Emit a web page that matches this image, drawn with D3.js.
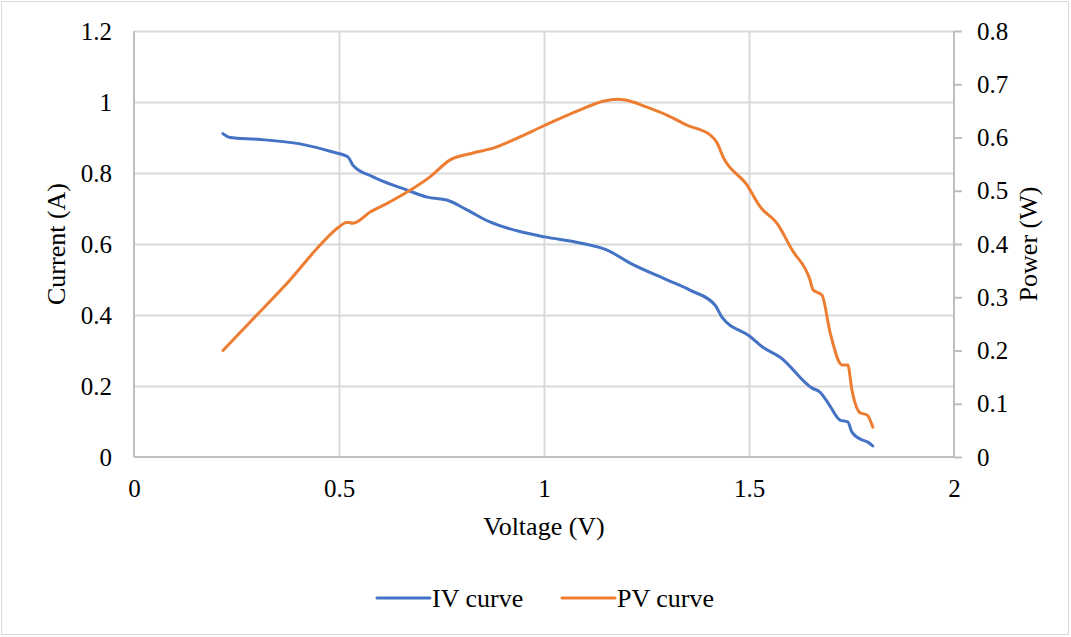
<!DOCTYPE html>
<html>
<head>
<meta charset="utf-8">
<script src="https://cdn.jsdelivr.net/npm/d3@7"></script>
<style>
    body { margin: 0; background: #fff; }
    svg text { font-family: 'Liberation Serif', 'Times New Roman', Tinos, 'DejaVu Serif', serif; fill: #000; }
</style>
</head>
<body>
<div id="chart"></div>
<script>
(function () {
    'use strict';

    // IV curve: voltage (V) vs current (A)
    var ivVoltage = [0.217, 0.234, 0.30, 0.405, 0.485, 0.522, 0.534, 0.583, 0.666, 0.715, 0.763, 0.812,
        0.868, 0.941, 1.002, 1.088, 1.154, 1.21, 1.30, 1.356, 1.417, 1.434, 1.502, 1.534, 1.576,
        1.654, 1.673, 1.693, 1.722, 1.741, 1.751, 1.776, 1.79, 1.802];
    var ivCurrent = [0.911, 0.90, 0.895, 0.882, 0.859, 0.845, 0.822, 0.789, 0.752, 0.732, 0.724, 0.696,
        0.662, 0.635, 0.62, 0.603, 0.583, 0.546, 0.499, 0.47, 0.428, 0.394, 0.340, 0.309, 0.281,
        0.194, 0.183, 0.152, 0.104, 0.099, 0.07, 0.048, 0.042, 0.031];

    // PV curve: voltage (V) vs power (W)
    var pvVoltage = [0.217, 0.30, 0.38, 0.454, 0.498, 0.52, 0.534, 0.576, 0.624, 0.722, 0.771,
        0.827, 0.876, 0.941, 1.002, 1.088, 1.144, 1.178, 1.202, 1.251, 1.30, 1.349, 1.405,
        1.422, 1.437, 1.495, 1.527, 1.568, 1.605, 1.649, 1.656, 1.678, 1.698, 1.727, 1.741, 1.751,
        1.771, 1.788, 1.802];
    var pvPower = [0.200, 0.267, 0.332, 0.398, 0.431, 0.441, 0.439, 0.460, 0.479, 0.526, 0.558,
        0.571, 0.580, 0.601, 0.623, 0.652, 0.668, 0.672, 0.670, 0.657, 0.642, 0.623, 0.605,
        0.590, 0.563, 0.511, 0.470, 0.439, 0.389, 0.332, 0.314, 0.304, 0.233, 0.173, 0.173, 0.126,
        0.083, 0.079, 0.056];

    var xTicks = [0, 0.5, 1, 1.5, 2];
    var leftTicks = [0, 0.2, 0.4, 0.6, 0.8, 1, 1.2];
    var rightTicks = [0, 0.1, 0.2, 0.3, 0.4, 0.5, 0.6, 0.7, 0.8];

    var width = 1071,
        height = 637,
        plot = { left: 134, right: 954, top: 31, bottom: 457 },
        serif = "'Liberation Serif', 'Times New Roman', Tinos, 'DejaVu Serif', serif",
        blue = '#4472C4',
        orange = '#ED7D31',
        grid = '#d9d9d9',
        axisColor = '#bfbfbf';

    var svg = d3.select('#chart')
        .append('svg')
        .attr('width', width)
        .attr('height', height)
        .attr('font-family', serif);

    svg.append('rect')
        .attr('x', 1.5).attr('y', 1.5)
        .attr('width', width - 4).attr('height', height - 4)
        .attr('fill', '#fff')
        .attr('stroke', grid);

    var x = d3.scaleLinear().domain([0, 2]).range([plot.left, plot.right]);
    var yLeft = d3.scaleLinear().domain([0, 1.2]).range([plot.bottom, plot.top]);
    var yRight = d3.scaleLinear().domain([0, 0.8]).range([plot.bottom, plot.top]);

    // gridlines
    svg.append('g')
        .selectAll('line.h')
        .data(leftTicks.slice(1))
        .enter().append('line')
        .attr('x1', plot.left).attr('x2', plot.right)
        .attr('y1', function (d) { return Math.round(yLeft(d)) + 0.5; })
        .attr('y2', function (d) { return Math.round(yLeft(d)) + 0.5; })
        .attr('stroke', grid).attr('stroke-width', 2);

    svg.append('g')
        .selectAll('line.v')
        .data(xTicks.slice(1, -1))
        .enter().append('line')
        .attr('y1', plot.top).attr('y2', plot.bottom)
        .attr('x1', function (d) { return Math.round(x(d)) + 0.5; })
        .attr('x2', function (d) { return Math.round(x(d)) + 0.5; })
        .attr('stroke', grid).attr('stroke-width', 2);

    // axes
    var bottomAxis = svg.append('g')
        .attr('transform', 'translate(0,' + plot.bottom + ')')
        .call(d3.axisBottom(x).tickValues(xTicks).tickSize(0).tickPadding(22)
            .tickFormat(d3.format('')));

    var leftAxis = svg.append('g')
        .attr('transform', 'translate(' + plot.left + ',0)')
        .call(d3.axisLeft(yLeft).tickValues(leftTicks).tickSize(0).tickPadding(22)
            .tickFormat(d3.format('')));

    var rightAxis = svg.append('g')
        .attr('transform', 'translate(' + plot.right + ',0)')
        .call(d3.axisRight(yRight).tickValues(rightTicks).tickSize(8).tickPadding(15)
            .tickFormat(d3.format('')));

    [bottomAxis, leftAxis, rightAxis].forEach(function (g) {
        g.attr('font-family', serif).attr('font-size', 25);
        g.select('.domain').attr('stroke', axisColor).attr('stroke-width', 2);
        g.selectAll('.tick line').attr('stroke', axisColor).attr('stroke-width', 2);
        g.selectAll('.tick text').attr('fill', '#000');
    });
    leftAxis.select('.domain').attr('d', 'M0,' + plot.top + 'V' + plot.bottom);
    rightAxis.select('.domain').attr('d', 'M0,' + plot.top + 'V' + plot.bottom);
    bottomAxis.select('.domain').attr('d', 'M' + plot.left + ',0H' + plot.right);

    // lines
    var ivLine = d3.line()
        .x(function (d, i) { return x(ivVoltage[i]); })
        .y(function (d) { return yLeft(d); })
        .curve(d3.curveMonotoneX);

    var pvLine = d3.line()
        .x(function (d, i) { return x(pvVoltage[i]); })
        .y(function (d) { return yRight(d); })
        .curve(d3.curveMonotoneX);

    svg.append('path')
        .datum(ivCurrent)
        .attr('d', ivLine)
        .attr('fill', 'none')
        .attr('stroke', blue)
        .attr('stroke-width', 3)
        .attr('stroke-linecap', 'round')
        .attr('stroke-linejoin', 'round');

    svg.append('path')
        .datum(pvPower)
        .attr('d', pvLine)
        .attr('fill', 'none')
        .attr('stroke', orange)
        .attr('stroke-width', 3)
        .attr('stroke-linecap', 'round')
        .attr('stroke-linejoin', 'round');

    // axis titles
    svg.append('text')
        .attr('x', (plot.left + plot.right) / 2)
        .attr('y', 535)
        .attr('text-anchor', 'middle')
        .attr('font-size', 26)
        .text('Voltage (V)');

    svg.append('text')
        .attr('transform', 'translate(65,' + (plot.top + plot.bottom) / 2 + ') rotate(-90)')
        .attr('text-anchor', 'middle')
        .attr('font-size', 26)
        .text('Current (A)');

    svg.append('text')
        .attr('transform', 'translate(1037,' + (plot.top + plot.bottom) / 2 + ') rotate(-90)')
        .attr('text-anchor', 'middle')
        .attr('font-size', 26)
        .text('Power (W)');

    // legend
    var legend = [
        { label: 'IV curve', color: blue, x: 377 },
        { label: 'PV curve', color: orange, x: 562 }
    ];
    var lg = svg.append('g')
        .selectAll('g')
        .data(legend)
        .enter().append('g')
        .attr('transform', function (d) { return 'translate(' + d.x + ',598)'; });
    lg.append('line')
        .attr('x1', 0).attr('x2', 53)
        .attr('stroke', function (d) { return d.color; })
        .attr('stroke-width', 3)
        .attr('stroke-linecap', 'round');
    lg.append('text')
        .attr('x', 55)
        .attr('y', 9)
        .attr('font-size', 26)
        .text(function (d) { return d.label; });
})();
</script>
</body>
</html>
